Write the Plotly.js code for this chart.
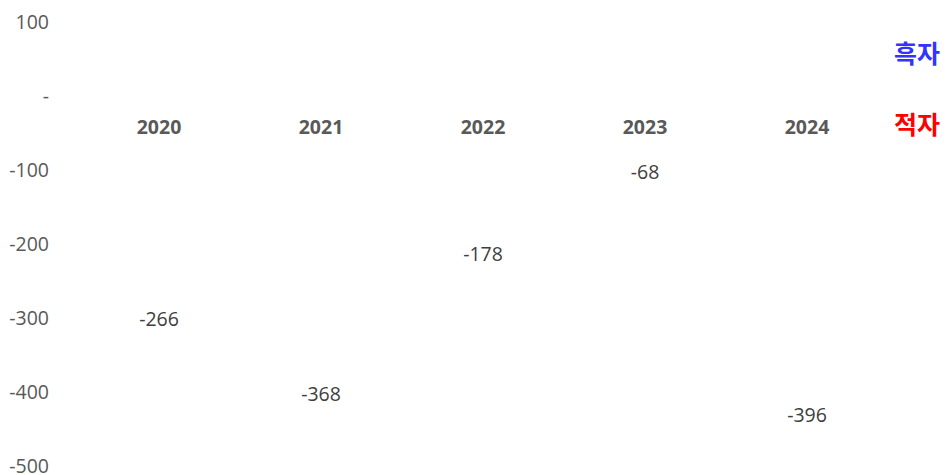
<!DOCTYPE html>
<html>
<head>
<meta charset="utf-8">
<script src="https://cdn.plot.ly/plotly-3.0.1.min.js"></script>
<style>html,body{margin:0;padding:0;background:#fff;}#chart{width:947px;height:475px;}</style>
</head>
<body>
<div id="chart"></div>
<script>
const years = ['2020', '2021', '2022', '2023', '2024'];
const values = [-266, -368, -178, -68, -396];
const yTickVals = [-500, -400, -300, -200, -100, 0, 100];
const yTickText = ['-500', '-400', '-300', '-200', '-100', '-', '100'];
const legendLabels = ['흑자', '적자'];

const traces = [
  {
    type: 'bar',
    x: years,
    y: values,
    marker: {color: 'rgba(0,0,0,0)'},
    hoverinfo: 'skip',
    showlegend: false
  },
  {
    type: 'scatter',
    mode: 'markers+text',
    x: years,
    y: values,
    text: values.map(v => String(v)),
    textposition: 'bottom center',
    marker: {size: 28, color: 'rgba(0,0,0,0)'},
    textfont: {family: 'Open Sans, sans-serif', size: 19.5, color: '#404040'},
    hoverinfo: 'skip',
    showlegend: false,
    cliponaxis: false
  }
];

const layout = {
  width: 947,
  height: 475,
  margin: {l: 78, r: 59, t: 22, b: 9},
  paper_bgcolor: '#ffffff',
  plot_bgcolor: '#ffffff',
  showlegend: false,
  xaxis: {
    type: 'category',
    anchor: 'free',
    position: 370 / 444,
    showline: false,
    showgrid: false,
    zeroline: false,
    ticks: '',
    ticklabelstandoff: 17,
    tickfont: {family: 'Open Sans, sans-serif', size: 19.5, color: '#595959', weight: 'bold'}
  },
  yaxis: {
    range: [-500, 100],
    tickvals: yTickVals,
    ticktext: yTickText,
    showgrid: false,
    zeroline: false,
    showline: false,
    ticks: '',
    ticklabelstandoff: 28,
    ticklabeloverflow: 'allow',
    tickfont: {family: 'Open Sans, sans-serif', size: 19.5, color: '#595959'}
  },
  annotations: [
    {
      xref: 'paper', yref: 'paper', x: 1.036, y: 0.932, xanchor: 'center', yanchor: 'middle',
      text: legendLabels[0], showarrow: false,
      font: {family: 'Noto Sans CJK KR, sans-serif', size: 25, color: '#3333ff', weight: 'bold'}
    },
    {
      xref: 'paper', yref: 'paper', x: 1.036, y: 0.772, xanchor: 'center', yanchor: 'middle',
      text: legendLabels[1], showarrow: false,
      font: {family: 'Noto Sans CJK KR, sans-serif', size: 25, color: '#ff0000', weight: 'bold'}
    }
  ]
};

Plotly.newPlot('chart', traces, layout, {displayModeBar: false, staticPlot: true});
</script>
</body>
</html>
